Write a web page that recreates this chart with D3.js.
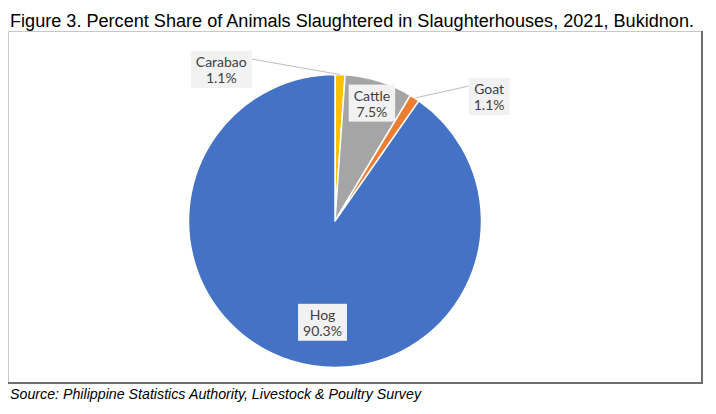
<!DOCTYPE html>
<html>
<head>
<meta charset="utf-8">
<script src="https://cdn.jsdelivr.net/npm/d3@7"></script>
<style>
  body { margin: 0; background: #fff; }
</style>
</head>
<body>
<svg id="drawing_region"></svg>
<script>
// data
const categories = ['Carabao', 'Cattle', 'Goat', 'Hog'];
const shares = [1.1, 7.5, 1.1, 90.3];
const colors = ['#FFC000', '#A5A5A5', '#ED7D31', '#4472C4'];
const title = 'Figure 3. Percent Share of Animals Slaughtered in Slaughterhouses, 2021, Bukidnon.';
const source = 'Source: Philippine Statistics Authority, Livestock & Poultry Survey';

const data = categories.map((c, i) => ({ label: c, value: shares[i], color: colors[i] }));

const config = {
    width: 716,
    height: 414,
    cx: 335,
    cy: 221,
    radius: 146.5
};

const svg = d3.select('#drawing_region')
    .attr('width', config.width)
    .attr('height', config.height);

// title
svg.append('text')
    .attr('x', 10)
    .attr('y', 27)
    .attr('textLength', 684)
    .attr('lengthAdjust', 'spacingAndGlyphs')
    .style('font-family', '"Liberation Sans", Arial, sans-serif')
    .style('font-size', '18px')
    .style('fill', '#000')
    .text(title);

// chart frame (light top/left, darker bottom/right)
svg.append('path')
    .attr('d', 'M8.5,383 L8.5,31.5 L702,31.5')
    .attr('fill', 'none')
    .attr('stroke', '#C8C8C8')
    .attr('stroke-width', 1);
svg.append('path')
    .attr('d', 'M8,383 L702,383 L702,31')
    .attr('fill', 'none')
    .attr('stroke', '#6E6E6E')
    .attr('stroke-width', 2);

// source note
svg.append('text')
    .attr('x', 10)
    .attr('y', 399)
    .attr('textLength', 411)
    .attr('lengthAdjust', 'spacingAndGlyphs')
    .style('font-family', '"Liberation Sans", Arial, sans-serif')
    .style('font-size', '15px')
    .style('font-style', 'italic')
    .style('fill', '#000')
    .text(source);

const pie = d3.pie().sort(null).value(d => d.value);
const arcs = pie(data);
const arc = d3.arc().innerRadius(0).outerRadius(config.radius);

const chart = svg.append('g')
    .attr('transform', `translate(${config.cx}, ${config.cy})`);

chart.selectAll('path.slice')
    .data(arcs)
    .enter()
    .append('path')
    .attr('class', 'slice')
    .attr('d', arc)
    .attr('fill', d => d.data.color)
    .attr('stroke', '#fff')
    .attr('stroke-width', 1.5)
    .attr('stroke-linejoin', 'round');

// label placement: polar position (angle in degrees from top, radius as fraction of R)
// null angle -> use slice mid angle
const labelPlace = {
    Carabao: { angle: -37, r: 1.29, leader: true },
    Cattle:  { angle: null, r: 0.84, leader: false },
    Goat:    { angle: 51.2, r: 1.35, leader: true },
    Hog:     { angle: 187, r: 0.70, leader: false }
};

const polar = (deg, r) => {
    const a = deg * Math.PI / 180;
    return [r * Math.sin(a), -r * Math.cos(a)];
};

const labels = chart.selectAll('g.label')
    .data(arcs)
    .enter()
    .append('g')
    .attr('class', 'label');

labels.each(function(d) {
    const g = d3.select(this);
    const p = labelPlace[d.data.label];
    const mid = (d.startAngle + d.endAngle) / 2 * 180 / Math.PI;
    const ang = p.angle === null ? mid : p.angle;
    const [lx, ly] = polar(ang, p.r * config.radius);

    const txt = g.append('text')
        .attr('text-anchor', 'middle')
        .style('font-family', 'Lato, "Open Sans", sans-serif')
        .style('font-size', '14px')
        .style('fill', '#404040');
    txt.append('tspan').attr('x', lx).attr('y', ly - 3).text(d.data.label);
    txt.append('tspan').attr('x', lx).attr('y', ly + 13).text(d3.format('.1f')(d.data.value) + '%');

    const bb = txt.node().getBBox();
    const padX = 5, padY = 2;
    const bx = bb.x - padX, by = bb.y - padY, bw = bb.width + 2 * padX, bh = bb.height + 2 * padY;
    g.insert('rect', 'text')
        .attr('x', bx)
        .attr('y', by)
        .attr('width', bw)
        .attr('height', bh)
        .attr('fill', '#F2F2F2');

    if (p.leader) {
        const [ex, ey] = polar(mid, config.radius);
        const right = lx > 0;
        const sx = right ? bx : bx + bw;
        const sy = by + 8;
        g.insert('polyline', 'rect')
            .attr('points', `${ex},${ey} ${sx},${sy}`)
            .attr('fill', 'none')
            .attr('stroke', '#BFBFBF')
            .attr('stroke-width', 1);
    }
});
</script>
</body>
</html>
